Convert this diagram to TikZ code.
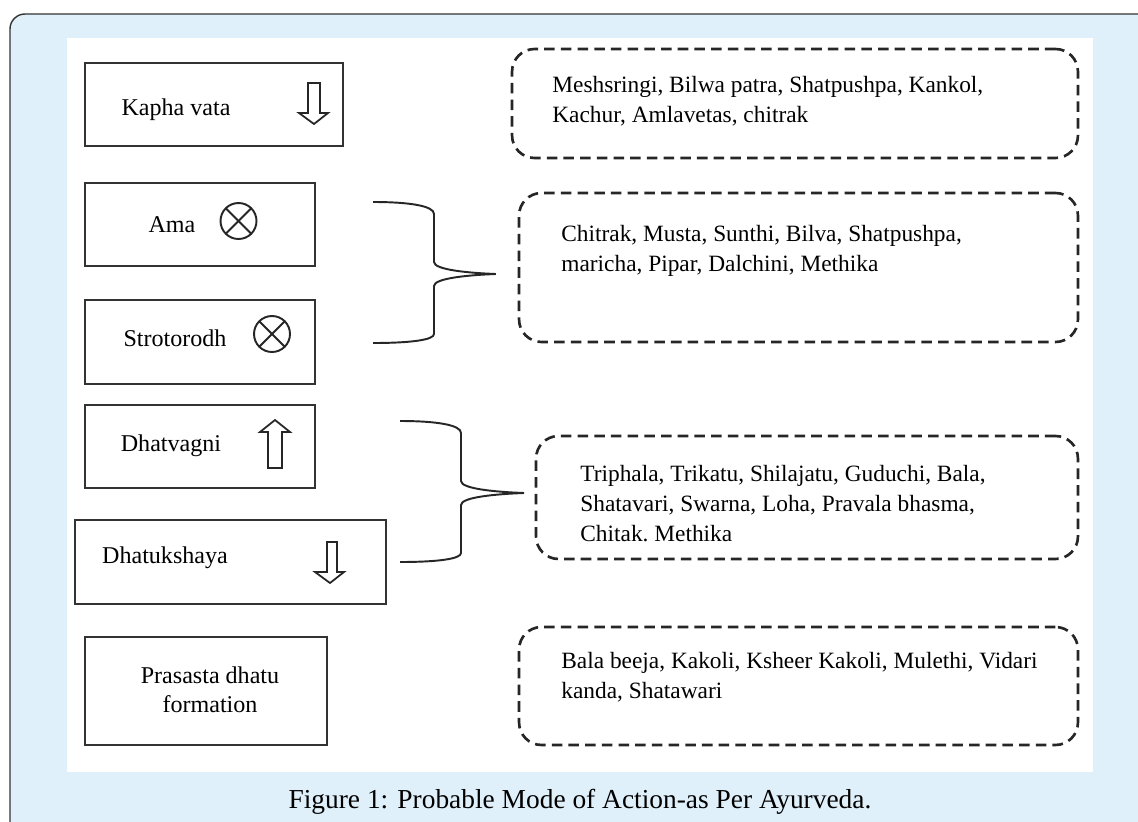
\documentclass[tikz,border=0pt]{standalone}
\usepackage{fontspec}
\setmainfont{Liberation Serif}
\usetikzlibrary{calc}
\definecolor{paneblue}{HTML}{DFF0FA}
\definecolor{framegray}{HTML}{333333}
\tikzset{
  leftbox/.style={draw=black!80, line width=1.1pt, inner sep=0pt},
  dashbox/.style={draw=black!85, line width=1.5pt, dash pattern=on 6pt off 3.5pt, rounded corners=0.45cm, inner sep=0pt},
  lbl/.style={font=\fontsize{13.7}{17}\selectfont, inner sep=0pt, anchor=base},
  herbs/.style={font=\fontsize{13.3}{17}\selectfont, align=left, inner sep=0pt, anchor=north west},
  brace/.style={line width=1.1pt, black!85},
  blockarrow/.style={line width=1pt, black!85, line join=miter},
  otimes/.style={line width=1.1pt, black!85}
}

\begin{document}
\begin{tikzpicture}[x=0.02cm,y=-0.02cm]
\useasboundingbox (0,0) rectangle (1138,821);
\clip (0,0) rectangle (1138,821);

% frame
\filldraw[fill=paneblue, draw=framegray, line width=0.8pt, rounded corners=0.3cm] (10,14) rectangle (1180,870);
\fill[white] (67,38) rectangle (1093,772);

% left column
\node[leftbox, minimum width=5.16cm, minimum height=1.66cm] (kapha) at (214,104.5) {};
\node[leftbox, minimum width=4.6cm, minimum height=1.66cm] (ama) at (200,224.5) {};
\node[leftbox, minimum width=4.6cm, minimum height=1.68cm] (stroto) at (200,342) {};
\node[leftbox, minimum width=4.6cm, minimum height=1.66cm] (dhatv) at (200,446.5) {};
\node[leftbox, minimum width=6.22cm, minimum height=1.68cm] (dhatuk) at (230.5,562) {};
\node[leftbox, minimum width=4.84cm, minimum height=2.16cm] (prasasta) at (206,691) {};

\node[lbl] (kaphatxt) at (176,115) {Kapha vata};
\node[lbl] (amatxt) at (172,232) {Ama};
\node[lbl] (strototxt) at (175,346) {Strotorodh};
\node[lbl] (dhatvtxt) at (171,451) {Dhatvagni};
\node[lbl] (dhatuktxt) at (165,563) {Dhatukshaya};
\node[lbl] (prasastatxt) at (210,683) {Prasasta dhatu};
\node[lbl] (formtxt) at (210,712) {formation};

% up / down arrows
\draw[blockarrow] (308,83) -- (320,83) -- (320,113) -- (328,113) -- (314,124) -- (299,113) -- (308,113) -- cycle;
\draw[blockarrow] (275,420) -- (290,432) -- (282,432) -- (282,468) -- (268,468) -- (268,432) -- (260,432) -- cycle;
\draw[blockarrow] (327,542) -- (337,542) -- (337,572) -- (344,572) -- (330,583) -- (315,572) -- (327,572) -- cycle;

% blocked
\coordinate (amax) at (238.5,221);
\coordinate (strotox) at (272,334);
\draw[otimes] (amax) circle [radius=0.36cm];
\draw[otimes] ($(amax)+(45:0.36cm)$) -- ($(amax)+(225:0.36cm)$);
\draw[otimes] ($(amax)+(135:0.36cm)$) -- ($(amax)+(315:0.36cm)$);
\draw[otimes] (strotox) circle [radius=0.36cm];
\draw[otimes] ($(strotox)+(45:0.36cm)$) -- ($(strotox)+(225:0.36cm)$);
\draw[otimes] ($(strotox)+(135:0.36cm)$) -- ($(strotox)+(315:0.36cm)$);

% right column
\node[dashbox, minimum width=11.32cm, minimum height=2.18cm] (herbA) at (795,103.5) {};
\node[dashbox, minimum width=11.18cm, minimum height=2.98cm] (herbB) at (798.5,267.5) {};
\node[dashbox, minimum width=10.84cm, minimum height=2.46cm] (herbC) at (807,497.5) {};
\node[dashbox, minimum width=11.18cm, minimum height=2.36cm] (herbD) at (798.5,686) {};

\node[herbs] (herbAtxt) at (552,76) {Meshsringi, Bilwa patra, Shatpushpa, Kankol,\\Kachur, Amlavetas, chitrak};
\node[herbs] (herbBtxt) at (561,225) {Chitrak, Musta, Sunthi, Bilva, Shatpushpa,\\maricha, Pipar, Dalchini, Methika};
\node[herbs] (herbCtxt) at (580,465) {Triphala, Trikatu, Shilajatu, Guduchi, Bala,\\Shatavari, Swarna, Loha, Pravala bhasma,\\Chitak.\ Methika};
\node[herbs] (herbDtxt) at (561,652) {Bala beeja, Kakoli, Ksheer Kakoli, Mulethi, Vidari\\kanda, Shatawari};

% braces
\coordinate (tipB) at ($(herbB.west)+(-22,6.5)$);
\draw[brace] (373,202) .. controls (410,202) and (434,206) .. (434,214) -- (434,262)
  .. controls (434,270) and (470,273) .. (tipB)
  .. controls (470,275) and (434,278) .. (434,286) -- (434,334)
  .. controls (434,340) and (410,343) .. (373,343);
\begin{scope}[shift={(27,219)}]
\draw[brace] (373,202) .. controls (410,202) and (434,206) .. (434,214) -- (434,262)
  .. controls (434,270) and (470,273) .. (497,274)
  .. controls (470,275) and (434,278) .. (434,286) -- (434,334)
  .. controls (434,340) and (410,343) .. (373,343);
\end{scope}

% caption
\node[font=\fontsize{15.6}{18}\selectfont, anchor=base, inner sep=0pt] (caption) at (580,808) {Figure 1: Probable Mode of Action-as Per Ayurveda.};
\end{tikzpicture}
\end{document}
